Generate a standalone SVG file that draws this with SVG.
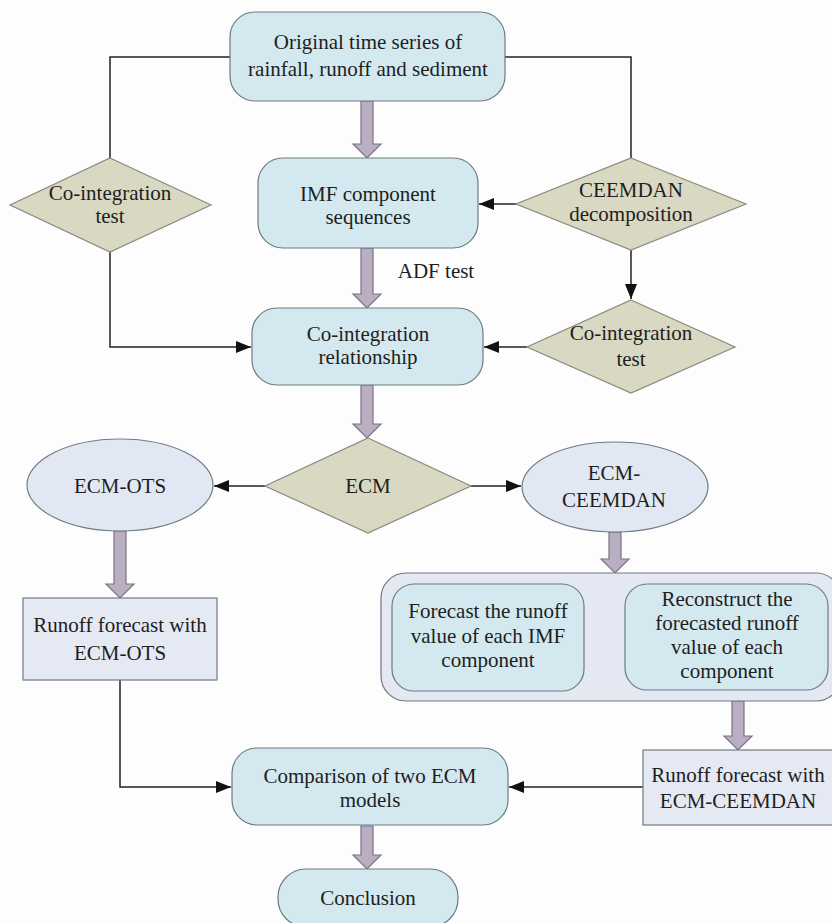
<svg xmlns="http://www.w3.org/2000/svg" width="832" height="923" viewBox="0 0 832 923">
<style>
text{font-family:'Liberation Serif','DejaVu Serif',serif;font-size:21px;fill:#1e1e1e;text-anchor:middle}
.rb{fill:#d3e9ef;stroke:#6f7b80;stroke-width:1.2}
.grp{fill:#e3e8f2;stroke:#6f7b80;stroke-width:1.2}
.dm{fill:#d8d8c3;stroke:#8a8a7e;stroke-width:1.2}
.el{fill:#e2e8f3;stroke:#6f7b80;stroke-width:1.2}
.rc{fill:#e4e9f3;stroke:#6f7b80;stroke-width:1.2}
.ba{fill:#b9aec2;stroke:#7a7284;stroke-width:1.2}
.ln{fill:none;stroke:#222;stroke-width:1.5}
</style>
<defs>
<marker id="ah" markerUnits="userSpaceOnUse" markerWidth="16" markerHeight="12" refX="15" refY="6" orient="auto">
<path d="M0,0 L15,6 L0,12 Z" fill="#111"/>
</marker>
</defs>
<rect width="832" height="923" fill="#fdfdfd"/>

<g id="connectors">
<polyline class="ln" points="230,57 110,57 110,158"/>
<polyline class="ln" points="110,252 110,347 251,347" marker-end="url(#ah)"/>
<polyline class="ln" points="505,57 631,57 631,158"/>
<line class="ln" x1="516" y1="204" x2="479" y2="204" marker-end="url(#ah)"/>
<line class="ln" x1="631" y1="250" x2="631" y2="299" marker-end="url(#ah)"/>
<line class="ln" x1="527" y1="347" x2="484" y2="347" marker-end="url(#ah)"/>
<line class="ln" x1="265" y1="486" x2="214" y2="486" marker-end="url(#ah)"/>
<line class="ln" x1="471" y1="486" x2="521" y2="486" marker-end="url(#ah)"/>
<polyline class="ln" points="120,680 120,787 231,787" marker-end="url(#ah)"/>
<line class="ln" x1="643" y1="787" x2="509" y2="787" marker-end="url(#ah)"/>
<polygon class="ba" points="361,101 373,101 373,144 381,144 367,158 353,144 361,144"/>
<polygon class="ba" points="361,248 373,248 373,294 381,294 367,308 353,294 361,294"/>
<polygon class="ba" points="361,385 373,385 373,424 381,424 367,438 353,424 361,424"/>
<polygon class="ba" points="114,531 126,531 126,584 134,584 120,598 106,584 114,584"/>
<polygon class="ba" points="609,532 621,532 621,559 629,559 615,573 601,559 609,559"/>
<polygon class="ba" points="732,701 744,701 744,736 752,736 738,750 724,736 732,736"/>
<polygon class="ba" points="361,826 373,826 373,855 381,855 367,869 353,855 361,855"/>
<polygon class="ba" points="584,632 611,632 611,623 625,637 611,651 611,642 584,642"/>
</g>

<g id="original">
<rect class="rb" x="230" y="12" width="275" height="89" rx="25"/>
<text x="368" y="49">Original time series of</text>
<text x="368" y="76">rainfall, runoff and sediment</text>
</g>
<g id="cointest-left">
<polygon class="dm" points="110,158 211,205 110,252 10,205"/>
<text x="110" y="200">Co-integration</text>
<text x="110" y="223">test</text>
</g>
<g id="imf">
<rect class="rb" x="258" y="158" width="220" height="90" rx="25"/>
<text x="368" y="201">IMF component</text>
<text x="368" y="224">sequences</text>
</g>
<g id="ceemdan">
<polygon class="dm" points="631,158 746,204 631,250 516,204"/>
<text x="631" y="197">CEEMDAN</text>
<text x="631" y="221">decomposition</text>
</g>
<g id="adf">
<text x="436" y="278">ADF test</text>
</g>
<g id="corel">
<rect class="rb" x="252" y="308" width="231" height="77" rx="25"/>
<text x="368" y="341">Co-integration</text>
<text x="368" y="364">relationship</text>
</g>
<g id="cointest-right">
<polygon class="dm" points="631,300 735,347 631,393 527,347"/>
<text x="631" y="340">Co-integration</text>
<text x="631" y="366">test</text>
</g>
<g id="ecm">
<polygon class="dm" points="368,438 471,486 368,533 265,486"/>
<text x="368" y="493">ECM</text>
</g>
<g id="ecm-ots">
<ellipse class="el" cx="120" cy="485" rx="93" ry="46"/>
<text x="120" y="493">ECM-OTS</text>
</g>
<g id="ecm-ceemdan">
<ellipse class="el" cx="615" cy="487" rx="93" ry="45"/>
<text x="614" y="480">ECM-</text>
<text x="614" y="507">CEEMDAN</text>
</g>
<g id="runoff-ots">
<rect class="rc" x="23" y="598" width="194" height="82"/>
<text x="120" y="632">Runoff forecast with</text>
<text x="120" y="660">ECM-OTS</text>
</g>
<g id="group">
<rect class="grp" x="381" y="573" width="460" height="128" rx="25"/>
</g>
<g id="forecast-imf">
<rect class="rb" x="392" y="584" width="192" height="107" rx="22"/>
<text x="488" y="618">Forecast the runoff</text>
<text x="488" y="643">value of each IMF</text>
<text x="488" y="667">component</text>
</g>
<g id="reconstruct">
<rect class="rb" x="625" y="584" width="203" height="106" rx="22"/>
<text x="727" y="606">Reconstruct the</text>
<text x="727" y="630">forecasted runoff</text>
<text x="727" y="654">value of each</text>
<text x="727" y="678">component</text>
</g>
<g id="runoff-ceemdan">
<rect class="rc" x="643" y="750" width="195" height="75"/>
<text x="738" y="782">Runoff forecast with</text>
<text x="738" y="808">ECM-CEEMDAN</text>
</g>
<g id="comparison">
<rect class="rb" x="232" y="748" width="276" height="77" rx="25"/>
<text x="370" y="783">Comparison of two ECM</text>
<text x="370" y="807">models</text>
</g>
<g id="conclusion">
<rect class="rb" x="278" y="869" width="180" height="58" rx="28"/>
<text x="368" y="905">Conclusion</text>
</g>
</svg>
